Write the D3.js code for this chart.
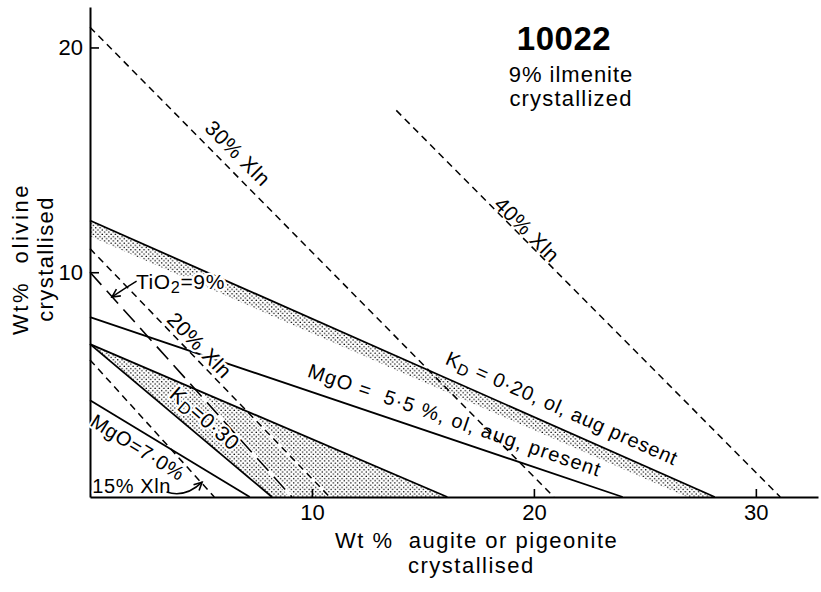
<!DOCTYPE html>
<html>
<head>
<meta charset="utf-8">
<script src="https://cdn.jsdelivr.net/npm/d3@7"></script>
<style>
  html, body { margin: 0; padding: 0; background: #fff; }
  svg { display: block; font-family: "Liberation Sans", Arial, sans-serif; }
</style>
</head>
<body>
<svg id="chart" width="821" height="592"></svg>
<script>
// Sample 10022 – olivine vs. pyroxene crystallised (wt %), 9% ilmenite removed first.

const xTicks = [10, 20, 30];
const yTicks = [10, 20];

// Total crystallisation contours (olivine + pyroxene = Xln - 9% ilmenite)
const xlnNames = ["15% Xln", "20% Xln", "30% Xln", "40% Xln"];
const xlnFrom  = [[0, 6.1], [0, 11.05], [0, 20.9], [13.8, 17.2]];
const xlnTo    = [[5.6, 0], [10.8, 0], [20.9, 0], [31.1, 0]];

// Liquid TiO2 = 9% contour
const tio2From = [0, 10.0];
const tio2To   = [9.1, 0];

// Liquid MgO contours
const mgoNames = ["MgO = 7.0%", "MgO = 5.5%"];
const mgoFrom  = [[0, 4.3], [0, 8.0]];
const mgoTo    = [[7.2, 0], [24.0, 0]];

// Kd (ol/liq) fields
const kd030Upper = [[0, 6.8], [16.1, 0]];
const kd030Lower = [[0, 6.8], [8.2, 0]];
const kd020Upper = [[0, 12.3], [28.15, 0]];
const kd020Lower = [[0, 11.6], [26.9, 0]];

const svg = d3.select("#chart");

const x = d3.scaleLinear().domain([0, 32.8]).range([90, 818]);
const y = d3.scaleLinear().domain([0, 21.8]).range([497, 7]);
const line = d3.line().x(d => x(d[0])).y(d => y(d[1]));

// stipple fill
const defs = svg.append("defs");
const pat = defs.append("pattern")
  .attr("id", "stipple").attr("patternUnits", "userSpaceOnUse")
  .attr("width", 4.4).attr("height", 4.4);
pat.append("circle").attr("cx", 1.1).attr("cy", 1.1).attr("r", 0.75).attr("fill", "#000");
pat.append("circle").attr("cx", 3.3).attr("cy", 3.3).attr("r", 0.75).attr("fill", "#000");

defs.append("marker")
  .attr("id", "arrow").attr("viewBox", "-10 -6 12 12")
  .attr("refX", 0).attr("refY", 0)
  .attr("markerWidth", 12).attr("markerHeight", 12)
  .attr("markerUnits", "userSpaceOnUse").attr("orient", "auto")
  .append("path").attr("d", "M-8,-4 L0,0 L-8,4")
  .attr("fill", "none").attr("stroke", "#000").attr("stroke-width", 1.6);

// stippled Kd fields
svg.append("path")
  .attr("d", line(kd020Upper.concat(kd020Lower.slice().reverse())) + "Z")
  .attr("fill", "url(#stipple)");
svg.append("path")
  .attr("d", line([kd030Upper[0], kd030Upper[1], kd030Lower[1]]) + "Z")
  .attr("fill", "url(#stipple)");

// clear the stipple along the dashed contours that cross it
[[tio2From, tio2To], [xlnFrom[1], xlnTo[1]]].forEach(seg => {
  svg.append("path").attr("d", line(seg))
    .attr("fill", "none").attr("stroke", "#fff").attr("stroke-width", 4);
});

// solid boundaries
const solidSegs = [kd030Upper, kd030Lower, kd020Upper,
  [mgoFrom[0], mgoTo[0]], [mgoFrom[1], mgoTo[1]]];
solidSegs.forEach(seg => {
  svg.append("path").attr("d", line(seg))
    .attr("fill", "none").attr("stroke", "#000").attr("stroke-width", 1.8);
});

// crystallisation contours (short dashes)
xlnNames.forEach((n, i) => {
  svg.append("path").attr("d", line([xlnFrom[i], xlnTo[i]]))
    .attr("fill", "none").attr("stroke", "#000").attr("stroke-width", 1.5)
    .attr("stroke-dasharray", "7,5");
});

// TiO2 contour (long dashes)
svg.append("path").attr("d", line([tio2From, tio2To]))
  .attr("fill", "none").attr("stroke", "#000").attr("stroke-width", 1.6)
  .attr("stroke-dasharray", "17,8");

// axes
const gx = svg.append("g").attr("transform", `translate(0,${y(0)})`)
  .call(d3.axisBottom(x).tickValues(xTicks).tickSizeInner(-8).tickSizeOuter(0)
    .tickPadding(7).tickFormat(d3.format("d")));
const gy = svg.append("g").attr("transform", `translate(${x(0)},0)`)
  .call(d3.axisLeft(y).tickValues(yTicks).tickSizeInner(-9).tickSizeOuter(0)
    .tickPadding(7).tickFormat(d3.format("d")));
[gx, gy].forEach(g => {
  g.select(".domain").attr("stroke", "#000").attr("stroke-width", 2);
  g.selectAll(".tick line").attr("stroke", "#000").attr("stroke-width", 1.6);
  g.selectAll(".tick text").attr("fill", "#000")
    .style("font-family", "'Liberation Sans', Arial, sans-serif").style("font-size", "22px");
});

// axis titles
const xt = svg.append("text").attr("fill", "#000").style("font-size", "22px")
  .style("letter-spacing", "1.5px").attr("xml:space", "preserve");
xt.append("tspan").attr("x", 335).attr("y", 548).text("Wt %  augite or pigeonite");
xt.append("tspan").attr("x", 408).attr("y", 573).text("crystallised");

const yt = svg.append("text").attr("fill", "#000").style("font-size", "22px")
  .attr("text-anchor", "middle").attr("transform", "translate(0,259) rotate(-90)")
  .attr("xml:space", "preserve");
yt.append("tspan").attr("x", 0).attr("y", 28).style("letter-spacing", "2.6px").text("Wt%  olivine");
yt.append("tspan").attr("x", 0).attr("y", 53).style("letter-spacing", "1.4px").text("crystallised");

// sample heading
svg.append("text").attr("x", 564).attr("y", 50).attr("text-anchor", "middle")
  .attr("fill", "#000").style("font-size", "33px").style("font-weight", "bold")
  .style("letter-spacing", "0.5px").text("10022");
svg.append("text").attr("x", 571).attr("y", 82).attr("text-anchor", "middle")
  .attr("fill", "#000").style("font-size", "22px").style("letter-spacing", "1px")
  .text("9% ilmenite");
svg.append("text").attr("x", 571).attr("y", 106).attr("text-anchor", "middle")
  .attr("fill", "#000").style("font-size", "22px").style("letter-spacing", "1.2px")
  .text("crystallized");

// in-plot labels
function label(parts, at, angle, size, opts = {}) {
  const t = svg.append("text")
    .attr("transform", `translate(${x(at[0])},${y(at[1])}) rotate(${angle})`)
    .attr("text-anchor", opts.anchor || "middle")
    .attr("dy", opts.anchor ? 0 : "0.36em")
    .attr("fill", "#000")
    .attr("xml:space", "preserve")
    .style("font-size", size + "px")
    .style("letter-spacing", (opts.ls || 0.6) + "px");
  if (opts.halo) {
    t.attr("stroke", "#fff").attr("stroke-width", opts.halo)
      .attr("paint-order", "stroke").attr("stroke-linejoin", "round");
  }
  parts.forEach(p => {
    const s = t.append("tspan").text(p.t);
    if (p.sub) s.attr("baseline-shift", "-22%").style("font-size", (size * 0.78) + "px");
  });
  return t;
}

label([{ t: xlnNames[2] }], [6.67, 15.3], 45, 21);
label([{ t: xlnNames[3] }], [19.7, 11.9], 45, 21);
label([{ t: xlnNames[1] }], [4.95, 6.76], 46, 21, { halo: 5 });
label([{ t: "K" }, { t: "D", sub: true }, { t: "=0·30" }], [5.18, 3.51], 41, 21, { halo: 4 });
label([{ t: "MgO=7·0%" }], [2.16, 2.22], 32, 20, { halo: 4 });
label([{ t: "K" }, { t: "D", sub: true }, { t: " = 0·20, ol, aug present" }], [21.27, 3.96], 24, 20, { ls: 0.8 });
label([{ t: "MgO =  5·5 %, ol, aug, present" }], [16.44, 3.43], 19, 20, { ls: 1.2 });
label([{ t: "TiO" }, { t: "2", sub: true }, { t: "=9%" }], [2.07, 9.25], 0, 21, { anchor: "start", halo: 5 });
label([{ t: xlnNames[0] }], [0.1, 0.18], 0, 20, { anchor: "start", halo: 4 });

// pointers from labels to their contours
function pointer(from, ctrl, to) {
  const p = d3.path();
  p.moveTo(x(from[0]), y(from[1]));
  p.quadraticCurveTo(x(ctrl[0]), y(ctrl[1]), x(to[0]), y(to[1]));
  svg.append("path").attr("d", p.toString())
    .attr("fill", "none").attr("stroke", "#000").attr("stroke-width", 1.5)
    .attr("marker-end", "url(#arrow)");
}
pointer([2.1, 9.6], [1.6, 9.3], [0.99, 8.9]);
pointer([3.45, 0.22], [4.3, -0.05], [5.05, 0.66]);
</script>
</body>
</html>
